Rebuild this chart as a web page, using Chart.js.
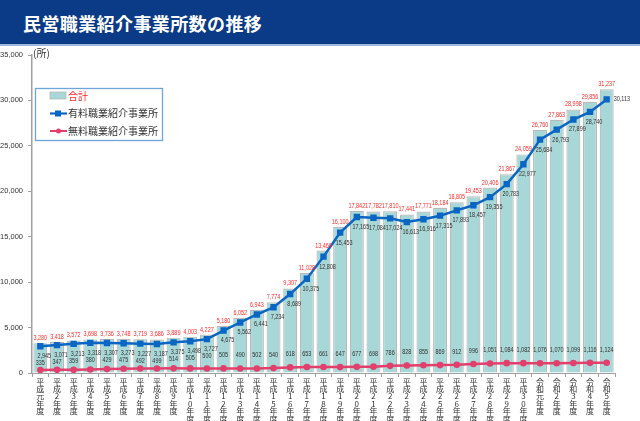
<!DOCTYPE html>
<html><head><meta charset="utf-8">
<script src="https://cdn.jsdelivr.net/npm/chart.js@4/dist/chart.umd.min.js"></script>
<style>
html,body{margin:0;padding:0;background:#fff;width:640px;height:421px;overflow:hidden;}
#title{position:absolute;left:0;top:0;width:640px;height:46px;background:#0b3a87;border-bottom:2px solid #9db8de;color:#fff;font-weight:bold;font-size:18px;font-family:"Noto Sans CJK JP","Noto Sans",sans-serif;line-height:46px;padding-left:23px;box-sizing:border-box;letter-spacing:0.4px}
#wrap{position:absolute;left:0;top:0;width:640px;height:421px}
</style></head>
<body>
<div id="wrap"><canvas id="c" width="640" height="421"></canvas></div>
<div id="title">民営職業紹介事業所数の推移</div>
<script>
const categories = ["平成元年度","平成2年度","平成3年度","平成4年度","平成5年度","平成6年度","平成7年度","平成8年度","平成9年度","平成10年度","平成11年度","平成12年度","平成13年度","平成14年度","平成15年度","平成16年度","平成17年度","平成18年度","平成19年度","平成20年度","平成21年度","平成22年度","平成23年度","平成24年度","平成25年度","平成26年度","平成27年度","平成28年度","平成29年度","平成30年度","令和元年度","令和2年度","令和3年度","令和4年度","令和5年度"];
const totalValues = [3280,3418,3572,3698,3736,3748,3719,3686,3889,4003,4227,5180,6052,6943,7774,9307,11028,13469,16100,17842,17782,17810,17441,17771,18184,18805,19453,20406,21867,24059,26760,27863,28998,29856,31237];
const paidValues = [2945,3071,3213,3318,3307,3273,3227,3187,3375,3498,3727,4675,5562,6441,7234,8689,10375,12808,15453,17165,17084,17024,16613,16916,17315,17893,18457,19355,20783,22977,25684,26793,27899,28740,30113];
const freeValues = [335,347,359,380,429,475,492,499,514,505,500,505,490,502,540,618,653,661,647,677,698,786,828,855,869,912,996,1051,1084,1082,1076,1070,1099,1116,1124];
const seriesNames = ["合計","有料職業紹介事業所","無料職業紹介事業所"];
const yTicks = [0,5000,10000,15000,20000,25000,30000,35000];
const unitLabel = "(所)";

const C_BAR = "#a7d7d6", C_BAR_B = "#b9b9b9", C_PAID = "#0a66c2", C_FREE = "#e2406c", C_RED = "#ff2a2a", C_TXT = "#333333";
const NUMFONT = '7px "Liberation Sans",Arial,sans-serif';
const SQUEEZE = 0.78;
const fmt = v => v.toLocaleString('en-US');

function narrowText(ctx, txt, x, y, align) {
  ctx.save();
  ctx.translate(x, y);
  ctx.scale(SQUEEZE, 1);
  ctx.textAlign = align;
  ctx.fillText(txt, 0, 0);
  ctx.restore();
}

const labelPlugin = {
  id: 'labels',
  afterDatasetsDraw(chart) {
    const ctx = chart.ctx;
    const mBar = chart.getDatasetMeta(0), mPaid = chart.getDatasetMeta(1), mFree = chart.getDatasetMeta(2);
    ctx.save();
    ctx.font = NUMFONT;
    ctx.textBaseline = 'middle';
    const n = totalValues.length;
    for (let i = 0; i < n; i++) {
      const b = mBar.data[i];
      ctx.fillStyle = C_RED;
      narrowText(ctx, fmt(totalValues[i]), b.x, b.y - 5, 'center');
      const p = mPaid.data[i];
      let py;
      ctx.fillStyle = C_TXT;
      if (i === n - 1) { py = p.y; narrowText(ctx, fmt(paidValues[i]), p.x + 7, py, 'left'); }
      else { py = p.y + 10; narrowText(ctx, fmt(paidValues[i]), p.x + 4, py, 'center'); }
      const f = mFree.data[i];
      let fy = f.y - 13;
      if (fy - py < 7) fy = py + 7;
      narrowText(ctx, fmt(freeValues[i]), f.x, fy, 'center');
    }
    ctx.restore();
  },
  afterDraw(chart) {
    const ctx = chart.ctx;
    ctx.save();
    ctx.font = '10px "Noto Sans CJK JP",sans-serif';
    ctx.fillStyle = C_TXT; ctx.textAlign = 'left'; ctx.textBaseline = 'middle';
    ctx.fillText(unitLabel, 33, 53);
    ctx.fillStyle = '#fff';
    ctx.fillRect(35.5, 88.5, 127, 52);
    ctx.strokeStyle = '#6fa6da'; ctx.lineWidth = 1.3;
    ctx.strokeRect(35.5, 88.5, 127, 52);
    ctx.font = '10px "Noto Sans CJK JP",sans-serif';
    ctx.fillStyle = C_BAR; ctx.fillRect(50, 92, 16, 7);
    ctx.strokeStyle = C_BAR_B; ctx.lineWidth = 0.8; ctx.strokeRect(50, 92, 16, 7);
    ctx.fillStyle = C_RED; ctx.fillText(seriesNames[0], 68, 96);
    ctx.strokeStyle = C_PAID; ctx.lineWidth = 2.2;
    ctx.beginPath(); ctx.moveTo(50, 113.5); ctx.lineTo(67, 113.5); ctx.stroke();
    ctx.fillStyle = C_PAID; ctx.fillRect(55, 110.5, 6, 6);
    ctx.fillStyle = C_TXT; ctx.fillText(seriesNames[1], 68, 113.5);
    ctx.strokeStyle = C_FREE; ctx.lineWidth = 2;
    ctx.beginPath(); ctx.moveTo(50, 131); ctx.lineTo(67, 131); ctx.stroke();
    ctx.fillStyle = C_FREE; ctx.beginPath(); ctx.arc(58.5, 131, 2.5, 0, Math.PI*2); ctx.fill();
    ctx.fillStyle = C_TXT; ctx.fillText(seriesNames[2], 68, 131);
    ctx.restore();
  }
};

new Chart(document.getElementById('c'), {
  data: {
    labels: categories,
    datasets: [
      { type: 'bar', label: seriesNames[0], data: totalValues, backgroundColor: C_BAR, borderColor: C_BAR_B, borderWidth: 1.2, barPercentage: 0.84, categoryPercentage: 1, order: 3 },
      { type: 'line', label: seriesNames[1], data: paidValues, borderColor: C_PAID, backgroundColor: C_PAID, borderWidth: 2.5, pointStyle: 'rect', pointRadius: 4.5, pointBorderWidth: 0, tension: 0, order: 1 },
      { type: 'line', label: seriesNames[2], data: freeValues, borderColor: C_FREE, backgroundColor: C_FREE, borderWidth: 2.5, pointStyle: 'circle', pointRadius: 3.3, pointBorderWidth: 0, tension: 0, order: 2 }
    ]
  },
  options: {
    responsive: false, animation: false, devicePixelRatio: 1,
    layout: { padding: { top: 55, right: 25, left: 0, bottom: 0 } },
    plugins: { legend: { display: false }, tooltip: { enabled: false }, title: { display: false } },
    scales: {
      x: {
        offset: true,
        grid: { display: true, drawOnChartArea: false, offset: true, tickLength: 4, color: '#a0a0a0' },
        border: { color: '#a0a0a0', width: 1 },
        ticks: { autoSkip: false, maxRotation: 0, minRotation: 0, padding: 1, color: C_TXT,
          font: { size: 8, family: '"Noto Sans CJK JP",sans-serif', lineHeight: 0.92 },
          callback: (v, i) => Array.from(categories[i]) },
        afterFit: s => { s.height = 48; }
      },
      y: {
        min: 0, max: 35000,
        afterBuildTicks: s => { s.ticks = yTicks.map(v => ({ value: v })); },
        grid: { display: true, drawOnChartArea: false, tickLength: 4, color: '#a0a0a0' },
        border: { color: '#a0a0a0', width: 1.5 },
        ticks: { padding: 5, color: C_TXT, font: { size: 7.5, family: '"Liberation Sans",Arial,sans-serif' }, callback: v => fmt(v) },
        afterFit: s => { s.width = 32; }
      }
    }
  },
  plugins: [labelPlugin]
});
</script>
</body></html>
